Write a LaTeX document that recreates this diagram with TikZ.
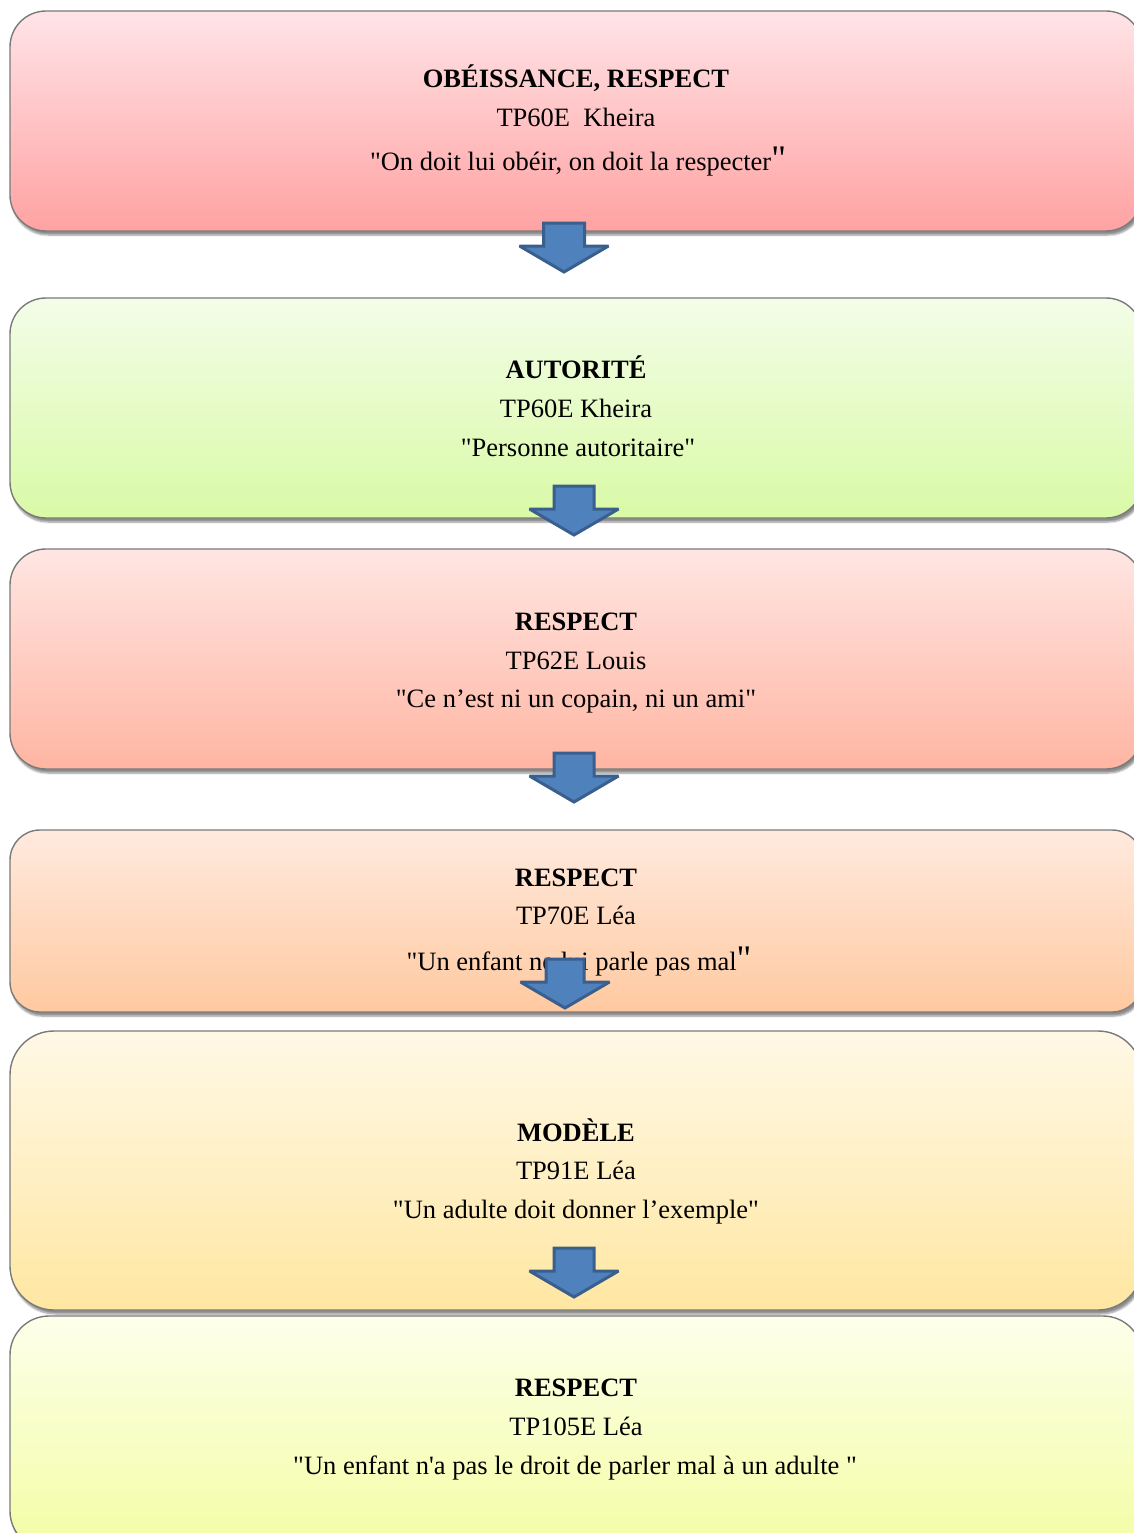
\documentclass[tikz,border=0pt]{standalone}
\usepackage{fontspec}
\setmainfont{Liberation Serif}[Ligatures=TeXOff]
\usetikzlibrary{shadows.blur}
\definecolor{arrfill}{HTML}{4F81BD}
\definecolor{arrline}{HTML}{3A5F8C}
\definecolor{boxline}{HTML}{7A7A7A}
\newcommand\bigq{{\fontsize{36}{36}\selectfont"}}
\begin{document}
\begin{tikzpicture}[x=1pt,y=-1pt,
  box/.style={draw=boxline, line width=1.4pt, minimum width=1132pt, inner sep=0pt,
    blur shadow={shadow xshift=2pt, shadow yshift=-4pt, shadow blur steps=6, shadow opacity=45}},
  txt/.style={anchor=base, inner sep=0pt, font=\fontsize{26.5}{32}\selectfont},
  ttl/.style={txt, font=\fontsize{26.5}{32}\selectfont\bfseries},
  blockarr/.style={fill=arrfill, draw=arrline, line width=3pt, line join=miter, miter limit=3}]
\useasboundingbox (0,0) rectangle (1134,1533);
\clip (0,0) rectangle (1134,1533);
% boxes
\node[box, minimum height=220pt, rounded corners=36pt, top color={rgb,255:red,255;green,228;blue,231}, bottom color={rgb,255:red,255;green,162;blue,162}] (b1) at (576,121) {};
\node[box, minimum height=220pt, rounded corners=36pt, top color={rgb,255:red,243;green,253;blue,232}, bottom color={rgb,255:red,217;green,250;blue,166}] (b2) at (576,408) {};
\node[box, minimum height=220pt, rounded corners=36pt, top color={rgb,255:red,255;green,230;blue,227}, bottom color={rgb,255:red,255;green,181;blue,162}] (b3) at (576,659) {};
\node[box, minimum height=182pt, rounded corners=30pt, top color={rgb,255:red,255;green,234;blue,222}, bottom color={rgb,255:red,255;green,201;blue,160}] (b4) at (576,921) {};
\node[box, minimum height=279pt, rounded corners=44pt, top color={rgb,255:red,255;green,248;blue,230}, bottom color={rgb,255:red,255;green,231;blue,162}] (b5) at (576,1170.5) {};
\node[box, minimum height=234pt, rounded corners=39pt, top color={rgb,255:red,253;green,255;blue,234}, bottom color={rgb,255:red,243;green,253;blue,164}] (b6) at (576,1433) {};
% texts
\node[ttl] (t1a) at (576,88) {OBÉISSANCE, RESPECT};
\node[txt] (t1b) at (576,127) {TP60E\ \ Kheira};
\node[txt] (t1c) at (578,171) {"On doit lui obéir, on doit la respecter\bigq};
\node[ttl] (t2a) at (576,378) {AUTORITÉ};
\node[txt] (t2b) at (576,417) {TP60E Kheira};
\node[txt] (t2c) at (578,456) {"Personne autoritaire"};
\node[ttl] (t3a) at (576,630) {RESPECT};
\node[txt] (t3b) at (576,669) {TP62E Louis};
\node[txt] (t3c) at (576,707) {"Ce n’est ni un copain, ni un ami"};
\node[ttl] (t4a) at (576,886) {RESPECT};
\node[txt] (t4b) at (576,924) {TP70E Léa};
\node[txt] (t4c) at (579,970) {"Un enfant ne lui parle pas mal\bigq};
\node[ttl] (t5a) at (576,1141) {MODÈLE};
\node[txt] (t5b) at (576,1179) {TP91E Léa};
\node[txt] (t5c) at (576,1218) {"Un adulte doit donner l’exemple"};
\node[ttl] (t6a) at (576,1396) {RESPECT};
\node[txt] (t6b) at (576,1435) {TP105E Léa};
\node[txt] (t6c) at (575,1474) {"Un enfant n'a pas le droit de parler mal à un adulte "};
% block arrows
\newcommand\blockarrow[3]{%
  \draw[blockarr] ({#1-#3},#2) -- ({#1+#3},#2) -- ({#1+#3},{#2+23}) -- ({#1+44.5},{#2+23})
    -- (#1,{#2+49}) -- ({#1-44.5},{#2+23}) -- ({#1-#3},{#2+23}) -- cycle;}
\blockarrow{564}{223}{20.5}
\blockarrow{574}{486}{20}
\blockarrow{574}{753}{20}
\blockarrow{565}{959}{19}
\blockarrow{574}{1248}{20}
\end{tikzpicture}
\end{document}
